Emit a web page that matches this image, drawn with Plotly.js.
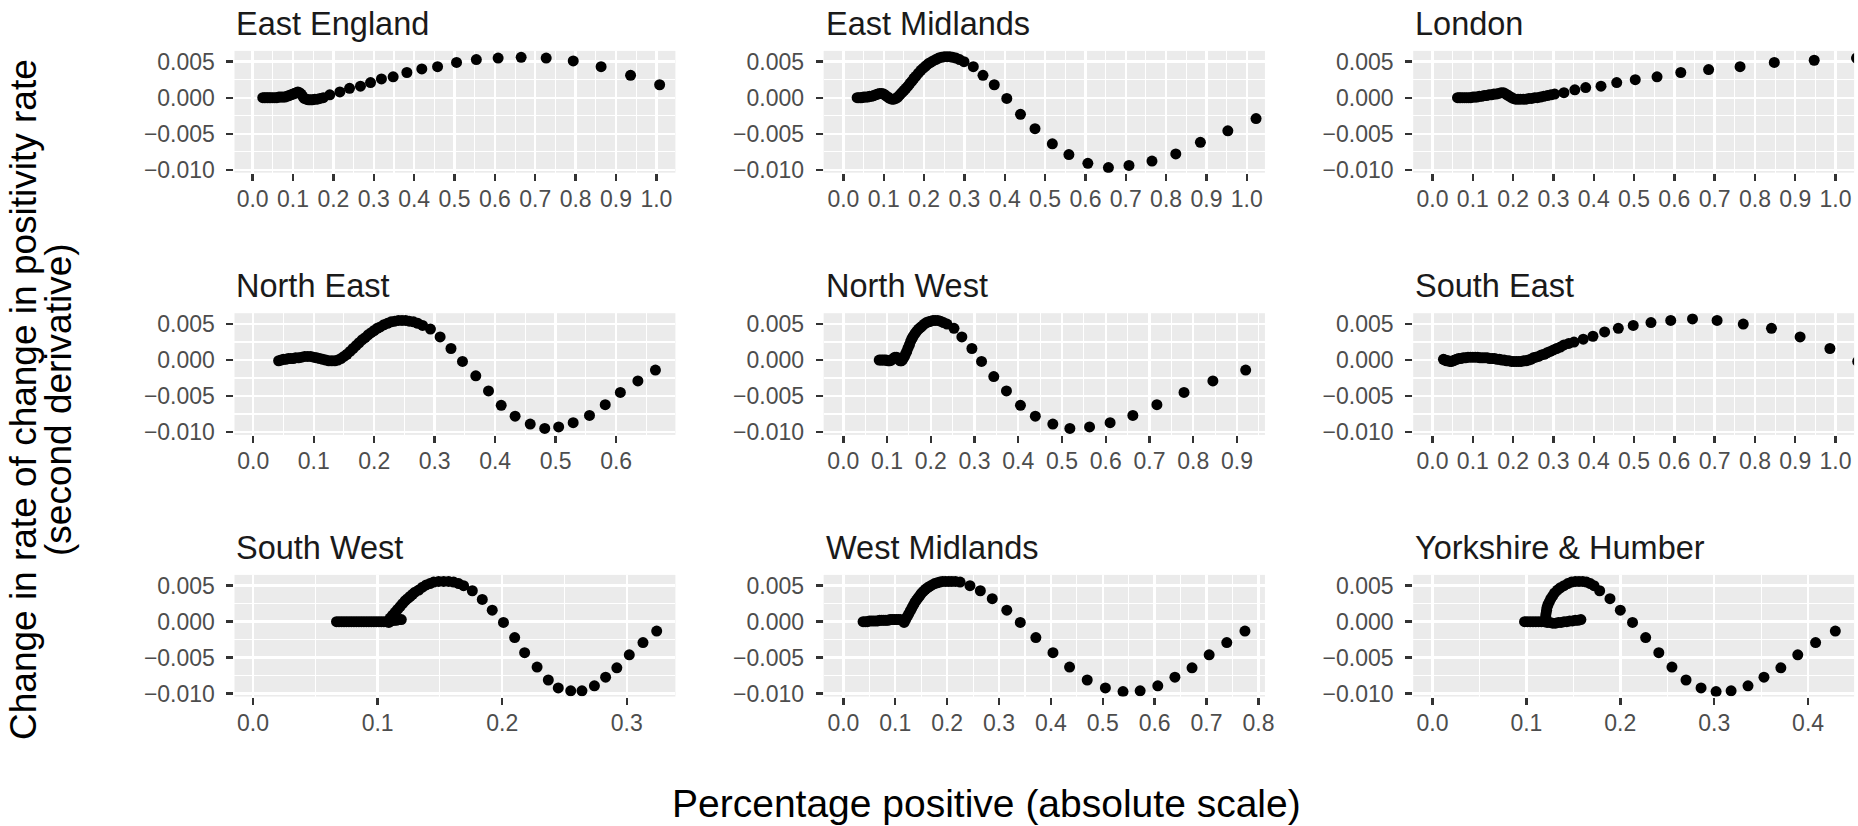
<!DOCTYPE html>
<html>
<head>
<meta charset="utf-8">
<script src="https://cdn.plot.ly/plotly-3.0.1.min.js"></script>
<style>
html, body { margin: 0; padding: 0; background: #ffffff; }
#chart { width: 1858px; height: 826px; }
</style>
</head>
<body>
<div id="chart"></div>
<script>
// ---- Data ----
const regionNames = ["East England", "East Midlands", "London", "North East", "North West",
                     "South East", "South West", "West Midlands", "Yorkshire & Humber"];

const eastEnglandX = [0.025,0.029,0.033,0.037,0.041,0.045,0.05,0.055,0.06,0.065,
  0.07,0.075,0.08,0.085,0.09,0.095,0.1,0.104,0.108,0.112,
  0.116,0.12,0.124,0.128,0.133,0.138,0.143,0.148,0.154,0.16,
  0.167,0.175,0.191,0.216,0.24,0.267,0.292,0.319,0.348,0.382,
  0.419,0.458,0.505,0.554,0.608,0.665,0.727,0.794,0.863,0.936,
  1.008];
const eastEnglandY = [0,0,0,0,0,0,0,0,0,0.0001,
  0.0001,0.0001,0.0001,0.0002,0.0003,0.0004,0.0005,0.0006,0.0007,0.0008,
  0.0007,0.0005,0.0002,-0.0001,-0.0002,-0.0003,-0.0003,-0.0003,-0.0002,-0.0002,
  -0.0001,0,0.0004,0.0008,0.0013,0.0016,0.0021,0.0026,0.0029,0.0035,
  0.004,0.0043,0.0049,0.0053,0.0055,0.0056,0.0055,0.0051,0.0043,0.0031,
  0.0018];

const eastMidlandsX = [0.034,0.038,0.042,0.046,
  0.05,0.055,0.06,0.065,0.07,0.075,0.08,0.085,0.09,0.095,
  0.1,0.105,0.11,0.115,0.12,0.125,0.13,0.135,0.14,0.145,
  0.15,0.155,0.16,0.165,0.17,0.175,0.18,
  0.186,0.192,0.198,0.204,0.21,0.216,0.222,
  0.229,0.236,0.243,0.25,0.257,0.264,0.271,0.279,0.288,0.299,
  0.322,0.346,0.374,0.405,0.439,0.475,0.518,0.559,0.606,0.657,
  0.708,0.765,0.824,0.885,0.953,1.023];
const eastMidlandsY = [0,0,0,0,
  0.0001,0.0001,0.0001,0.0002,0.0002,0.0003,0.0004,0.0005,0.0006,0.0006,
  0.0005,0.0003,0.0001,-0.0001,-0.0002,-0.0002,-0.0001,0.0001,0.0004,0.0007,
  0.001,0.0013,0.0016,0.002,0.0023,0.0027,0.003,
  0.0034,0.0038,0.0041,0.0044,0.0047,0.0049,0.0051,
  0.0053,0.0055,0.0056,0.0057,0.0057,0.0057,0.0056,0.0055,0.0053,0.005,
  0.0043,0.0031,0.0018,-0.0001,-0.0023,-0.0043,-0.0064,-0.0079,-0.0091,-0.0097,
  -0.0094,-0.0088,-0.0078,-0.0062,-0.0046,-0.0029];

const londonX = [0.062,0.066,0.07,0.075,0.08,0.085,0.09,0.095,0.1,0.105,
  0.11,0.116,0.122,0.128,0.134,0.14,0.146,0.152,0.158,0.164,
  0.17,0.176,0.182,0.188,0.194,0.2,0.206,0.212,0.218,0.225,
  0.232,0.239,0.246,0.253,0.26,0.268,0.276,0.285,0.294,0.303,
  0.326,0.353,0.38,0.418,0.457,0.503,0.557,0.616,0.685,0.763,
  0.848,0.947,1.052];
const londonY = [0,0,0,0,0,0,0,0,0.0001,0.0001,
  0.0001,0.0002,0.0002,0.0003,0.0003,0.0004,0.0004,0.0005,0.0005,0.0006,
  0.0007,0.0007,0.0005,0.0003,0.0001,-0.0001,-0.0002,-0.0002,-0.0002,-0.0002,
  -0.0002,-0.0001,-0.0001,0,0,0.0001,0.0002,0.0003,0.0004,0.0005,
  0.0007,0.0011,0.0014,0.0016,0.0021,0.0025,0.0029,0.0035,0.0039,0.0043,
  0.0049,0.0052,0.0055];

const northEastX = [0.042,0.046,0.05,0.054,0.058,0.062,0.066,0.07,
  0.075,0.08,0.085,0.09,0.095,0.1,0.105,0.11,0.115,0.12,
  0.125,0.13,0.135,0.14,0.145,0.15,0.155,0.16,0.165,0.17,
  0.175,0.18,0.185,0.19,0.195,0.2,0.205,0.21,
  0.216,0.222,0.228,0.234,0.24,0.246,0.252,0.258,
  0.265,0.272,0.28,
  0.293,0.309,0.327,0.346,0.368,0.389,0.41,0.433,0.458,0.482,
  0.505,0.529,0.556,0.582,0.607,0.636,0.665];
const northEastY = [-0.0001,0,0.0001,0.0001,0.0002,0.0002,0.0002,0.0003,
  0.0003,0.0004,0.0005,0.0005,0.0005,0.0004,0.0003,0.0002,0.0001,0,
  -0.0001,-0.0001,-0.0001,0,0.0002,0.0005,0.0008,0.0012,0.0016,0.002,
  0.0024,0.0028,0.0031,0.0035,0.0038,0.0041,0.0044,0.0046,
  0.0049,0.0051,0.0053,0.0054,0.0055,0.0055,0.0055,0.0054,
  0.0053,0.0051,0.0048,
  0.0043,0.0032,0.0016,-0.0002,-0.0022,-0.0043,-0.0063,-0.0078,-0.0089,-0.0095,
  -0.0093,-0.0087,-0.0077,-0.0062,-0.0045,-0.0029,-0.0014];

const northWestX = [0.082,0.086,0.09,0.094,0.098,0.102,0.106,0.11,0.114,0.118,
  0.122,0.126,0.13,0.133,0.136,0.139,0.142,0.145,0.148,0.151,
  0.154,0.157,0.16,0.164,0.168,0.172,0.176,0.18,0.185,0.19,
  0.195,0.2,0.205,0.21,0.216,0.222,0.229,0.237,0.253,0.271,
  0.294,0.316,0.344,0.373,0.405,0.439,0.479,0.518,0.563,0.61,
  0.662,0.717,0.779,0.845,0.92];
const northWestY = [0,0,0,0,0,-0.0001,-0.0001,0,0.0002,0.0004,
  0.0004,0.0002,-0.0001,-0.0001,0.0001,0.0004,0.0008,0.0012,0.0017,0.0021,
  0.0026,0.003,0.0033,0.0037,0.004,0.0043,0.0045,0.0047,0.005,0.0052,
  0.0053,0.0054,0.0055,0.0055,0.0055,0.0054,0.0052,0.005,0.0044,0.0032,
  0.0016,-0.0002,-0.0023,-0.0043,-0.0063,-0.0078,-0.0089,-0.0095,-0.0093,-0.0087,
  -0.0077,-0.0062,-0.0045,-0.0029,-0.0014];

const southEastX = [0.027,0.031,0.035,0.039,0.043,0.047,0.051,0.055,0.06,0.065,
  0.07,0.076,0.082,0.088,0.094,0.1,0.106,0.112,0.118,0.124,
  0.13,0.136,0.142,0.148,0.154,0.16,0.166,0.172,0.178,0.184,
  0.19,0.196,0.202,0.208,0.214,0.22,0.226,0.232,0.238,0.244,
  0.25,0.256,0.263,0.27,0.277,0.284,0.292,0.3,0.308,0.317,
  0.326,0.338,0.351,0.374,0.398,0.427,0.461,0.498,0.542,0.591,
  0.645,0.706,0.771,0.841,0.912,0.986,1.055];
const southEastY = [0.0001,0,-0.0001,-0.0001,-0.0002,-0.0002,-0.0001,0,0.0001,0.0002,
  0.0002,0.0003,0.0003,0.0004,0.0004,0.0004,0.0004,0.0004,0.0003,0.0003,
  0.0003,0.0003,0.0002,0.0002,0.0002,0.0001,0.0001,0,0,-0.0001,
  -0.0001,-0.0002,-0.0002,-0.0002,-0.0002,-0.0002,-0.0001,-0.0001,0,0.0001,
  0.0003,0.0004,0.0005,0.0007,0.0008,0.001,0.0012,0.0014,0.0016,0.0018,
  0.0021,0.0023,0.0025,0.0029,0.0033,0.0039,0.0044,0.0048,0.0052,0.0055,
  0.0057,0.0055,0.005,0.0044,0.0032,0.0016,-0.0002];

const southWestX = [0.067,0.069,0.071,0.073,0.075,0.077,0.079,0.081,0.083,0.085,
  0.087,0.089,0.091,0.093,0.095,0.097,0.099,0.101,0.103,0.105,
  0.107,0.109,0.111,0.113,0.115,0.117,0.119,
  0.11,0.112,0.114,0.116,0.118,0.12,0.122,0.124,0.126,0.128,
  0.13,0.133,0.136,0.139,0.142,0.145,0.149,0.153,0.157,0.161,
  0.165,0.169,0.176,0.184,0.192,0.201,0.21,0.218,0.228,0.237,
  0.245,0.255,0.264,0.274,0.283,0.292,0.302,0.313,0.324];
const southWestY = [0,0,0,0,0,0,0,0,0,0,
  0,0,0,0,0,0,0,0,0,0,
  0,-0.0001,0.0001,0.0002,0.0002,0.0003,0.0003,
  0.0005,0.0009,0.0013,0.0017,0.0021,0.0025,0.0029,0.0032,0.0035,0.0038,
  0.0041,0.0044,0.0048,0.0051,0.0053,0.0055,0.0056,0.0056,0.0056,0.0055,
  0.0053,0.005,0.0043,0.0031,0.0016,-0.0001,-0.0022,-0.0043,-0.0063,-0.0081,
  -0.0092,-0.0096,-0.0096,-0.0089,-0.0077,-0.0064,-0.0046,-0.0029,-0.0013];

const westMidlandsX = [0.038,0.042,0.046,0.05,0.054,0.058,0.062,0.066,0.07,0.074,
  0.078,0.082,0.086,0.09,0.094,0.098,0.102,0.106,0.11,0.114,
  0.117,0.12,0.123,0.126,0.129,0.132,0.135,0.138,0.141,0.144,
  0.147,0.15,0.154,0.158,0.162,0.166,0.171,0.176,0.181,0.186,
  0.191,0.197,0.203,0.209,0.216,0.225,0.244,0.264,0.287,0.315,
  0.341,0.371,0.404,0.436,0.47,0.505,0.539,0.572,0.606,0.639,
  0.672,0.705,0.739,0.774];
const westMidlandsY = [0,0,0,0.0001,0.0001,0.0001,0.0001,0.0001,0.0002,0.0002,
  0.0002,0.0002,0.0002,0.0003,0.0003,0.0003,0.0003,0.0003,0.0003,0.0002,
  -0.0001,0.0003,0.0007,0.0011,0.0015,0.0019,0.0023,0.0027,0.003,0.0033,
  0.0036,0.0039,0.0042,0.0045,0.0047,0.0049,0.0051,0.0053,0.0054,0.0055,
  0.0056,0.0056,0.0056,0.0056,0.0056,0.0055,0.005,0.0043,0.0032,0.0016,
  -0.0001,-0.0022,-0.0043,-0.0063,-0.0081,-0.0092,-0.0097,-0.0096,-0.0089,-0.0077,
  -0.0064,-0.0046,-0.0029,-0.0013];

const yorkshireX = [0.098,0.101,0.104,0.107,0.11,0.113,0.116,0.119,0.122,0.125,
  0.128,0.131,0.134,0.137,0.14,0.143,0.146,0.149,0.152,0.155,
  0.158,
  0.121,0.1205,0.121,0.1215,0.122,0.123,0.1245,0.126,0.128,0.13,
  0.133,0.136,0.14,0.144,0.148,0.152,0.156,0.16,0.164,0.168,
  0.172,0.178,0.189,0.2,0.213,0.227,0.241,0.255,0.27,0.286,
  0.302,0.318,0.336,0.353,0.371,0.389,0.408,0.429];
const yorkshireY = [0,0,0,0,0,0,0,0,-0.0001,-0.0001,
  -0.0002,-0.0002,-0.0001,-0.0001,0,0,0.0001,0.0001,0.0002,0.0002,
  0.0003,
  0.0004,0.0008,0.0012,0.0016,0.002,0.0024,0.0028,0.0032,0.0036,0.004,
  0.0044,0.0047,0.005,0.0053,0.0055,0.0056,0.0056,0.0056,0.0055,0.0053,
  0.005,0.0043,0.0032,0.0016,-0.0001,-0.0022,-0.0043,-0.0063,-0.0081,-0.0092,
  -0.0097,-0.0096,-0.0089,-0.0077,-0.0064,-0.0046,-0.0029,-0.0013];

const seriesX = [eastEnglandX, eastMidlandsX, londonX, northEastX, northWestX,
                 southEastX, southWestX, westMidlandsX, yorkshireX];
const seriesY = [eastEnglandY, eastMidlandsY, londonY, northEastY, northWestY,
                 southEastY, southWestY, westMidlandsY, yorkshireY];

const xRanges = [[-0.045, 1.047], [-0.049, 1.045], [-0.048, 1.046],
                 [-0.031, 0.698], [-0.045, 0.964], [-0.048, 1.046],
                 [-0.0149, 0.339], [-0.038, 0.8125], [-0.0206, 0.449]];
const yRange = [-0.0104, 0.0065];
const yTitleLines = ["Change in rate of change in positivity rate", "(second derivative)"];
const xTitle = "Percentage positive (absolute scale)";

// ---- Layout geometry ----
const colDomains = [[0.1262, 0.3635], [0.4433, 0.6808], [0.7606, 0.9979]];
const rowDomains = [[0.7910, 0.9384], [0.4735, 0.6208], [0.1567, 0.3040]];
const FONT = "Liberation Sans, Arial, Helvetica, sans-serif";

const traces = [];
const layout = {
  width: 1858, height: 826,
  margin: {l: 0, r: 0, t: 0, b: 0},
  paper_bgcolor: "#ffffff",
  plot_bgcolor: "#EBEBEB",
  showlegend: false,
  font: {family: FONT, color: "#000000"},
  annotations: []
};

for (let i = 0; i < 9; i++) {
  const r = Math.floor(i / 3), c = i % 3;
  const sfx = i === 0 ? "" : String(i + 1);
  traces.push({
    type: "scatter", mode: "markers",
    x: seriesX[i], y: seriesY[i],
    xaxis: "x" + sfx, yaxis: "y" + sfx,
    marker: {color: "#000000", size: 11, line: {width: 0}},
    hoverinfo: "x+y"
  });
  const common = {
    showline: false, zeroline: false,
    showgrid: true, gridcolor: "#FFFFFF", gridwidth: 2.4,
    ticks: "outside", ticklen: 7, tickwidth: 2.4, tickcolor: "#333333",
    tickfont: {family: FONT, size: 23, color: "#4D4D4D"},
    fixedrange: true
  };
  layout["xaxis" + sfx] = Object.assign({}, common, {
    domain: colDomains[c], anchor: "y" + sfx,
    range: xRanges[i], dtick: 0.1, tick0: 0, tickformat: ".1f",
    minor: {dtick: 0.05, tick0: 0, showgrid: true, gridcolor: "#FFFFFF", gridwidth: 1.1, ticks: ""},
    ticklabelstandoff: -1
  });
  layout["yaxis" + sfx] = Object.assign({}, common, {
    domain: rowDomains[r], anchor: "x" + sfx,
    range: yRange, dtick: 0.005, tick0: 0, tickformat: ".3f",
    minor: {dtick: 0.0025, tick0: 0, showgrid: true, gridcolor: "#FFFFFF", gridwidth: 1.1, ticks: ""},
    ticklabelstandoff: 7
  });
  layout.annotations.push({
    text: regionNames[i], xref: "paper", yref: "paper",
    x: colDomains[c][0], y: rowDomains[r][1],
    xanchor: "left", yanchor: "bottom", yshift: 7, showarrow: false,
    font: {family: FONT, size: 32.5, color: "#1A1A1A"}
  });
}

layout.annotations.push({
  text: xTitle, xref: "paper", yref: "paper",
  x: 987 / 1858, y: 1 - 803 / 826, xanchor: "center", yanchor: "middle",
  showarrow: false, font: {family: FONT, size: 39, color: "#000000"}
});
const yTitleX = [24, 59];
for (let k = 0; k < 2; k++) {
  layout.annotations.push({
    text: yTitleLines[k], xref: "paper", yref: "paper",
    x: yTitleX[k] / 1858, y: 1 - 400 / 826, xanchor: "center", yanchor: "middle",
    textangle: -90, showarrow: false,
    font: {family: FONT, size: 37, color: "#000000"}
  });
}

Plotly.newPlot("chart", traces, layout, {displayModeBar: false, staticPlot: true});
</script>
</body>
</html>
